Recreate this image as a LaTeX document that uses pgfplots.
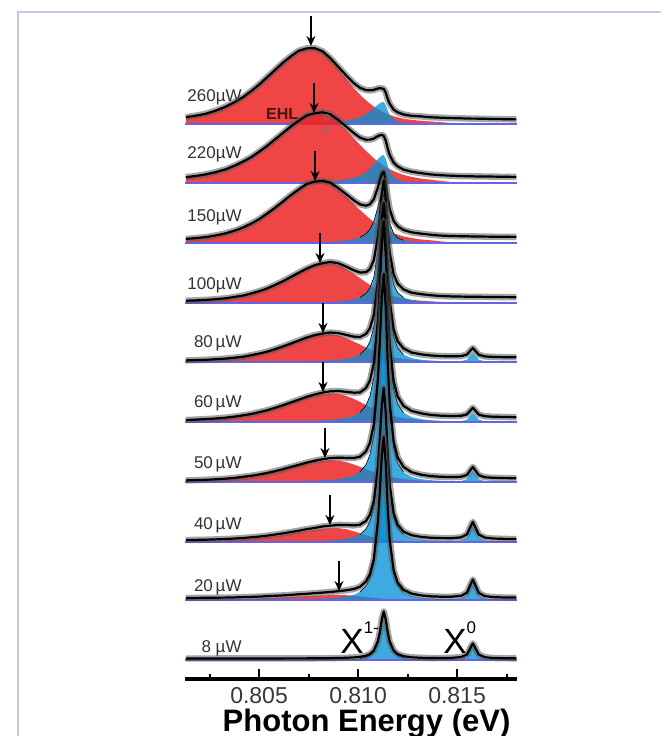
\documentclass[border=0pt]{standalone}
\usepackage{fontspec}
\setmainfont{Liberation Sans}
\usepackage{pgfplots}
\usepackage{pgfplotstable}
\pgfplotsset{compat=1.18}
\usetikzlibrary{arrows.meta}
\definecolor{ehl}{RGB}{237,37,37}
\definecolor{xb}{RGB}{0,145,215}
\definecolor{basec}{RGB}{100,100,230}
\definecolor{framec}{RGB}{200,200,228}
\definecolor{tickgray}{RGB}{55,55,55}
\definecolor{labgray}{RGB}{50,50,50}
\definecolor{ehltext}{RGB}{70,20,20}

% columns: x (eV), r = EHL component, b = X1- component, z = X0 component, f = fit (all in plot units above own baseline)
\pgfplotstableread{
x r b z f
0.8013 6.7 0.14 0 6.8
0.8018 8.2 0.16 0 8.3
0.8023 10.0 0.17 0 10.2
0.8028 13.1 0.20 0 13.3
0.8033 17.0 0.22 0 17.2
0.8038 22.0 0.25 0 22.2
0.8042 26.7 0.28 0 27.0
0.8046 32.6 0.31 0 32.9
0.8050 39.0 0.36 0 39.4
0.8054 46.2 0.41 0 46.6
0.8058 53.4 0.46 0 53.9
0.8062 60.7 0.54 0 61.2
0.8066 67.0 0.63 0 67.6
0.8070 72.4 0.75 0 73.2
0.8074 74.7 0.90 0 75.6
0.8078 74.8 1.11 0 75.9
0.8082 71.4 1.40 0 72.8
0.8086 64.1 1.81 0 65.9
0.8090 54.8 2.42 0 57.2
0.8094 45.1 3.37 0 48.5
0.8098 35.7 4.94 0 40.6
0.8101 29.3 6.86 0 36.2
0.8104 23.7 9.82 0 33.9
0.8106 20.4 12.54 0 33.6
0.8108 17.3 15.91 0 34.1
0.8110 14.9 19.37 0 35.5
0.8111 13.8 20.70 0 35.8
0.8112 12.5 21.67 0 35.6
0.8113 11.5 22.00 0 35.1
0.8114 10.7 18.97 0 31.4
0.8115 9.9 13.42 0 25.1
0.8116 9.2 9.02 0 20.2
0.8118 7.7 4.47 0 14.4
0.8120 6.7 2.52 0 11.7
0.8123 5.3 1.32 0 9.5
0.8127 4.1 0.69 0 8.2
0.8132 3.2 0.38 0 7.6
0.8137 2.5 0.24 0 6.7
0.8142 1.8 0.16 0 6.3
0.8147 1.0 0.12 0 5.9
0.8152 0.4 0.10 0 5.7
0.8155 0 0.08 0 5.5
0.8157 0 0.07 0 5.4
0.8158 0 0.07 0 5.4
0.8159 0 0.07 0 5.4
0.8161 0 0.06 0 5.3
0.8164 0 0.05 0 5.2
0.8168 0 0.04 0 5.0
0.8174 0 0.03 0 4.8
0.8180 0 0.02 0 4.6
}\tA

\pgfplotstableread{
x r b z f
0.8013 5.7 0.14 0 5.8
0.8018 6.8 0.15 0 7.0
0.8023 8.4 0.17 0 8.6
0.8028 10.6 0.19 0 10.8
0.8033 13.4 0.22 0 13.6
0.8038 17.3 0.25 0 17.6
0.8042 21.2 0.27 0 21.5
0.8046 25.5 0.31 0 25.8
0.8050 30.9 0.35 0 31.3
0.8054 36.6 0.40 0 37.0
0.8058 43.0 0.46 0 43.5
0.8062 49.5 0.53 0 50.0
0.8066 55.9 0.62 0 56.5
0.8070 61.5 0.74 0 62.2
0.8074 66.6 0.89 0 67.5
0.8078 68.6 1.10 0 69.7
0.8082 69.3 1.39 0 70.7
0.8086 66.9 1.79 0 68.7
0.8090 60.6 2.42 0 63.0
0.8094 53.0 3.41 0 56.4
0.8098 44.6 5.09 0 49.7
0.8101 38.2 7.20 0 45.4
0.8104 32.1 10.70 0 43.3
0.8106 28.5 14.11 0 43.4
0.8108 24.7 18.67 0 44.5
0.8110 21.6 23.77 0 46.9
0.8111 20.2 25.88 0 47.7
0.8112 18.8 27.44 0 48.0
0.8113 17.2 28.00 0 47.2
0.8114 16.0 24.14 0 42.3
0.8115 15.0 17.07 0 34.4
0.8116 13.9 11.48 0 27.9
0.8118 11.8 5.69 0 20.3
0.8120 10.2 3.21 0 16.6
0.8123 8.1 1.68 0 13.4
0.8127 6.1 0.88 0 11.3
0.8132 4.3 0.49 0 9.8
0.8137 3.2 0.31 0 8.5
0.8142 2.0 0.21 0 7.8
0.8147 1.0 0.15 0 7.3
0.8152 0.4 0.12 0 6.9
0.8155 0 0.10 0 6.8
0.8157 0 0.09 0 6.7
0.8158 0 0.09 0 6.7
0.8159 0 0.09 0 6.6
0.8161 0 0.08 0 6.6
0.8164 0 0.07 0 6.5
0.8168 0 0.06 0 6.4
0.8174 0 0.05 0 6.2
0.8180 0 0.04 0 6.1
}\tB

\pgfplotstableread{
x r b z f
0.8013 4.0 0.09 0 4.1
0.8018 4.8 0.10 0 4.9
0.8023 5.8 0.11 0 5.9
0.8028 7.4 0.12 0 7.5
0.8033 9.5 0.14 0 9.6
0.8038 12.4 0.16 0 12.6
0.8042 15.4 0.18 0 15.6
0.8046 19.2 0.20 0 19.4
0.8050 23.6 0.23 0 23.8
0.8054 29.0 0.26 0 29.3
0.8058 34.8 0.30 0 35.1
0.8062 41.1 0.34 0 41.4
0.8066 47.4 0.40 0 47.8
0.8070 53.1 0.48 0 53.6
0.8074 58.3 0.58 0 58.9
0.8078 60.6 0.72 0 61.3
0.8082 61.3 0.92 0 62.2
0.8086 59.1 1.20 0 60.3
0.8090 53.4 1.65 0 55.1
0.8094 46.4 2.38 0 48.8
0.8098 38.8 3.72 0 42.5
0.8101 33.0 5.59 0 38.6
0.8104 27.6 9.24 0 37.3
0.8106 24.2 13.68 0 38.7
0.8108 21.0 21.7 0 43.9
0.8110 18.3 35.6 0 55.4
0.8111 17.0 44.0 0 62.7
0.8112 15.6 51.8 0 69.2
0.8113 14.4 55.0 0 71.4
0.8114 13.5 45.9 0 61.6
0.8115 12.5 30.7 0 45.5
0.8116 11.5 19.8 0 33.8
0.8118 9.7 9.4 0 21.9
0.8120 8.4 5.2 0 16.8
0.8123 6.6 2.7 0 13.0
0.8127 5.0 1.41 0 10.7
0.8132 3.5 0.78 0 9.3
0.8137 2.7 0.49 0 8.2
0.8142 1.6 0.34 0 7.4
0.8147 0.8 0.24 0 7.0
0.8152 0.3 0.19 0 6.8
0.8155 0 0.16 0 6.7
0.8157 0 0.13 0 6.6
0.8158 0 0.13 0 6.6
0.8159 0 0.13 0 6.6
0.8161 0 0.13 0 6.5
0.8164 0 0.11 0 6.4
0.8168 0 0.09 0 6.3
0.8174 0 0.08 0 6.2
0.8180 0 0.06 0 6.1
}\tC

\pgfplotstableread{
x r b z f
0.8013 2.2 0.08 0 2.3
0.8018 2.5 0.09 0 2.6
0.8023 3.0 0.10 0 3.1
0.8028 3.7 0.12 0 3.8
0.8033 4.6 0.13 0 4.7
0.8038 6.0 0.15 0 6.2
0.8042 7.3 0.17 0 7.5
0.8046 9.3 0.19 0 9.5
0.8050 11.6 0.21 0 11.8
0.8054 14.3 0.24 0 14.5
0.8058 17.7 0.28 0 18.0
0.8062 21.4 0.33 0 21.7
0.8066 25.6 0.38 0 26.0
0.8070 29.7 0.46 0 30.2
0.8074 33.7 0.56 0 34.3
0.8078 37.0 0.69 0 37.7
0.8082 38.9 0.88 0 39.8
0.8086 39.8 1.15 0 41.0
0.8090 38.2 1.59 0 39.8
0.8094 34.1 2.31 0 36.4
0.8098 29.0 3.64 0 32.6
0.8101 24.9 5.58 0 30.5
0.8104 20.7 9.58 0 30.8
0.8106 18.2 14.9 0 33.9
0.8108 15.8 25.9 0 42.9
0.8110 13.5 51.2 0 66.2
0.8111 12.6 71.9 0 86.2
0.8112 11.6 97.2 0 110.6
0.8113 10.6 110.0 0 122.6
0.8114 9.6 91.9 0 103.7
0.8115 9.0 61.5 0 72.8
0.8116 8.2 39.6 0 50.3
0.8118 6.9 18.8 0 28.5
0.8120 5.8 10.4 0 19.4
0.8123 4.5 5.4 0 13.6
0.8127 3.2 2.83 0 10.3
0.8132 2.2 1.55 0 8.8
0.8137 1.7 0.98 0 7.7
0.8142 1.0 0.67 0 7.0
0.8147 0.5 0.48 0 6.6
0.8152 0.2 0.37 0 6.4
0.8155 0 0.32 0 6.3
0.8157 0 0.26 0 6.2
0.8158 0 0.26 0 6.2
0.8159 0 0.26 0 6.2
0.8161 0 0.26 0 6.2
0.8164 0 0.22 0 6.1
0.8168 0 0.19 0 6.0
0.8174 0 0.15 0 5.9
0.8180 0 0.12 0 5.8
}\tD

\pgfplotstableread{
x r b z f
0.8013 1.5 0.11 0 1.6
0.8018 1.8 0.12 0 1.9
0.8023 2.1 0.14 0 2.2
0.8028 2.6 0.16 0 2.8
0.8033 3.2 0.18 0 3.4
0.8038 4.2 0.20 0 4.4
0.8042 5.1 0.23 0 5.3
0.8046 6.5 0.26 0 6.8
0.8050 8.1 0.29 0 8.4
0.8054 10.0 0.33 0 10.3
0.8058 12.4 0.38 0 12.8
0.8062 15.0 0.45 0 15.5
0.8066 17.9 0.52 0 18.4
0.8070 20.8 0.63 0 21.4
0.8074 23.6 0.76 0 24.4
0.8078 25.9 0.94 0 26.8
0.8082 27.2 1.20 0 28.4
0.8086 27.9 1.57 0 29.5
0.8090 26.7 2.17 0 28.9
0.8094 23.9 3.15 0 27.1
0.8098 20.3 4.96 0 25.3
0.8101 17.4 7.61 0 25.0
0.8104 14.5 13.1 0 28.0
0.8106 12.7 20.3 0 33.7
0.8108 11.1 35.3 0 47.3
0.8110 9.5 69.8 0 80.5
0.8111 8.8 98.1 0 108.2
0.8112 8.1 132.6 0 142.1
0.8113 7.4 150.0 0 159.0
0.8114 6.7 125.3 0 133.7
0.8115 6.3 83.9 0 92.0
0.8116 5.7 54.0 0 61.7
0.8118 4.8 25.6 0 32.6
0.8120 4.1 14.2 0 20.8
0.8123 3.2 7.4 0 13.5
0.8127 2.2 3.86 0 9.5
0.8132 1.5 2.11 0 7.6
0.8137 1.2 1.34 0 6.5
0.8142 0.7 0.91 0.11 5.9
0.8147 0.3 0.65 0.23 5.7
0.8152 0 0.50 0.72 5.9
0.8155 0 0.44 2.34 7.4
0.8157 0 0.35 6.95 12.0
0.8158 0 0.35 9.0 14.0
0.8159 0 0.35 6.79 11.7
0.8161 0 0.35 2.29 7.2
0.8164 0 0.30 0.72 5.6
0.8168 0 0.26 0.27 5.1
0.8174 0 0.20 0.11 4.8
0.8180 0 0.16 0.06 4.7
}\tE

\pgfplotstableread{
x r b z f
0.8013 1.9 0.14 0 2.0
0.8018 2.2 0.16 0 2.4
0.8023 2.7 0.17 0 2.9
0.8028 3.3 0.21 0 3.5
0.8033 4.1 0.22 0 4.3
0.8038 5.2 0.26 0 5.5
0.8042 6.4 0.29 0 6.7
0.8046 7.7 0.33 0 8.0
0.8050 9.4 0.36 0 9.8
0.8054 11.3 0.41 0 11.7
0.8058 13.6 0.48 0 14.1
0.8062 16.1 0.57 0 16.7
0.8066 18.8 0.66 0 19.5
0.8070 21.5 0.79 0 22.3
0.8074 24.1 0.97 0 25.1
0.8078 26.2 1.19 0 27.4
0.8082 27.9 1.52 0 29.4
0.8086 28.7 1.99 0 30.7
0.8090 28.2 2.75 0 31.0
0.8094 26.2 3.99 0 30.2
0.8098 23.0 6.29 0 29.3
0.8101 20.0 9.64 0 29.6
0.8104 17.0 16.5 0 33.9
0.8106 15.0 25.7 0 41.4
0.8108 13.2 44.7 0 58.8
0.8110 11.4 88.4 0 101.0
0.8111 10.6 124.2 0 136.1
0.8112 9.8 167.9 0 179.1
0.8113 9.1 190.0 0 200.7
0.8114 8.4 158.7 0 168.8
0.8115 7.7 106.2 0 115.7
0.8116 7.0 68.4 0 77.4
0.8118 6.0 32.5 0 40.7
0.8120 5.0 18.0 0 25.5
0.8123 3.9 9.3 0 16.1
0.8127 2.8 4.89 0 11.1
0.8132 1.9 2.68 0 8.6
0.8137 1.3 1.69 0 7.0
0.8142 0.8 1.16 0.11 6.3
0.8147 0.3 0.83 0.23 6.0
0.8152 0 0.64 0.72 6.2
0.8155 0 0.55 2.34 7.6
0.8157 0 0.45 6.95 12.1
0.8158 0 0.45 9.0 14.2
0.8159 0 0.45 6.79 11.9
0.8161 0 0.45 2.29 7.4
0.8164 0 0.38 0.72 5.8
0.8168 0 0.33 0.27 5.3
0.8174 0 0.26 0.11 5.0
0.8180 0 0.21 0.06 4.8
}\tF

\pgfplotstableread{
x r b z f
0.8013 1.4 0.15 0 1.6
0.8018 1.7 0.16 0 1.9
0.8023 2.0 0.18 0 2.2
0.8028 2.5 0.22 0 2.7
0.8033 3.1 0.24 0 3.3
0.8038 3.9 0.27 0 4.2
0.8042 4.9 0.31 0 5.2
0.8046 5.8 0.35 0 6.2
0.8050 7.1 0.38 0 7.5
0.8054 8.6 0.44 0 9.0
0.8058 10.3 0.51 0 10.8
0.8062 12.2 0.60 0 12.8
0.8066 14.3 0.69 0 15.0
0.8070 16.3 0.84 0 17.1
0.8074 18.3 1.02 0 19.3
0.8078 19.9 1.25 0 21.2
0.8082 21.2 1.60 0 22.8
0.8086 21.8 2.09 0 23.9
0.8090 21.4 2.89 0 24.3
0.8094 19.9 4.20 0 24.1
0.8098 17.4 6.62 0 24.0
0.8101 15.2 10.1 0 25.3
0.8104 12.9 17.4 0 30.6
0.8106 11.4 27.1 0 39.0
0.8108 10.0 47.1 0 57.8
0.8110 8.6 93.1 0 102.6
0.8111 8.0 130.7 0 139.7
0.8112 7.4 176.7 0 185.2
0.8113 6.9 200.0 0 208.1
0.8114 6.4 167.1 0 174.8
0.8115 5.8 111.8 0 119.0
0.8116 5.3 72.0 0 78.8
0.8118 4.6 34.2 0 40.5
0.8120 3.8 18.9 0 24.6
0.8123 3.0 9.8 0 15.0
0.8127 2.1 5.15 0 9.8
0.8132 1.4 2.82 0 7.2
0.8137 1.0 1.78 0 5.8
0.8142 0.6 1.22 0.13 5.2
0.8147 0.2 0.87 0.28 4.9
0.8152 0 0.67 0.88 5.2
0.8155 0 0.58 2.86 7.0
0.8157 0 0.47 8.49 12.5
0.8158 0 0.47 11.0 15.0
0.8159 0 0.47 8.29 12.3
0.8161 0 0.47 2.79 6.8
0.8164 0 0.40 0.88 4.8
0.8168 0 0.35 0.33 4.2
0.8174 0 0.27 0.13 3.9
0.8180 0 0.22 0.07 3.7
}\tG

\pgfplotstableread{
x r b z f
0.8013 0.85 0.11 0 2.0
0.8018 1.0 0.12 0 2.1
0.8023 1.2 0.14 0 2.3
0.8028 1.4 0.16 0 2.6
0.8033 1.8 0.18 0 3.0
0.8038 2.3 0.20 0 3.5
0.8042 2.8 0.23 0 4.0
0.8046 3.4 0.26 0 4.7
0.8050 4.1 0.29 0 5.4
0.8054 5.0 0.33 0 6.3
0.8058 6.0 0.38 0 7.4
0.8062 7.1 0.45 0 8.6
0.8066 8.4 0.52 0 9.9
0.8070 9.7 0.63 0 11.3
0.8074 11.0 0.76 0 12.8
0.8078 12.1 0.94 0 14.0
0.8082 13.3 1.20 0 15.5
0.8086 13.7 1.57 0 16.3
0.8090 13.9 2.17 0 17.1
0.8094 12.8 3.15 0 17.0
0.8098 10.6 4.96 0 16.6
0.8101 8.7 7.61 0 17.3
0.8104 6.7 13.1 0 21.0
0.8106 5.6 20.3 0 27.2
0.8108 4.5 35.3 0 41.2
0.8110 3.6 69.8 0 74.9
0.8111 3.2 98.1 0 102.8
0.8112 2.9 132.6 0 137.0
0.8113 2.6 150.0 0 154.2
0.8114 2.2 125.3 0 129.2
0.8115 2.0 83.9 0 87.6
0.8116 1.8 54.0 0 57.6
0.8118 1.4 25.6 0 28.8
0.8120 1.1 14.2 0 17.3
0.8123 0.8 7.4 0 10.3
0.8127 0.6 3.86 0 6.8
0.8132 0.43 2.11 0 5.0
0.8137 0.35 1.34 0 4.2
0.8142 0.2 0.91 0.20 3.9
0.8147 0 0.65 0.43 3.8
0.8152 0 0.50 1.36 4.6
0.8155 0 0.44 4.42 7.6
0.8157 0 0.35 13.1 16.2
0.8158 0 0.35 17.0 20.1
0.8159 0 0.35 12.8 15.9
0.8161 0 0.35 4.32 7.4
0.8164 0 0.30 1.36 4.4
0.8168 0 0.26 0.51 3.5
0.8174 0 0.20 0.20 3.1
0.8180 0 0.16 0.11 2.9
}\tH

\pgfplotstableread{
x r b z f
0.8013 0.36 0.12 0 2.0
0.8018 0.42 0.13 0 2.1
0.8023 0.50 0.15 0 2.2
0.8028 0.61 0.17 0 2.3
0.8033 0.75 0.19 0 2.4
0.8038 0.92 0.22 0 2.6
0.8042 1.12 0.25 0 2.9
0.8046 1.33 0.28 0 3.1
0.8050 1.61 0.31 0 3.4
0.8054 1.91 0.35 0 3.8
0.8058 2.27 0.41 0 4.2
0.8062 2.65 0.48 0 4.6
0.8066 3.07 0.55 0 5.1
0.8070 3.49 0.67 0 5.7
0.8074 3.92 0.81 0 6.2
0.8078 4.30 1.00 0 6.8
0.8082 4.64 1.28 0 7.4
0.8086 4.84 1.67 0 8.0
0.8090 4.97 2.31 0 8.8
0.8094 4.80 3.36 0 9.7
0.8098 4.22 5.29 0 11.0
0.8101 3.60 8.12 0 13.2
0.8104 2.94 13.9 0 18.4
0.8106 2.50 21.7 0 25.8
0.8108 2.12 37.7 0 41.4
0.8110 1.74 74.5 0 77.9
0.8111 1.60 104.6 0 107.9
0.8112 1.44 141.4 0 144.5
0.8113 1.29 160.0 0 163.0
0.8114 1.15 133.7 0 136.6
0.8115 1.04 89.5 0 92.3
0.8116 0.93 57.6 0 60.3
0.8118 0.74 27.3 0 29.8
0.8120 0.60 15.1 0 17.5
0.8123 0.44 7.85 0 10.2
0.8127 0.30 4.12 0 6.4
0.8132 0.15 2.25 0 4.5
0.8137 0 1.43 0 3.6
0.8142 0 0.97 0.22 3.3
0.8147 0 0.70 0.45 3.3
0.8152 0 0.54 1.44 4.1
0.8155 0 0.47 4.68 7.3
0.8157 0 0.38 13.9 16.4
0.8158 0 0.38 18.0 20.5
0.8159 0 0.38 13.6 16.1
0.8161 0 0.38 4.57 7.1
0.8164 0 0.32 1.44 3.9
0.8168 0 0.28 0.54 2.9
0.8174 0 0.22 0.22 2.5
0.8180 0 0.17 0.12 2.4
}\tI

\pgfplotstableread{
x r b z f
0.8013 0 0.05 0 1.55
0.8018 0 0.05 0 1.55
0.8023 0 0.05 0 1.55
0.8028 0 0.06 0 1.55
0.8033 0 0.07 0 1.6
0.8038 0 0.07 0 1.6
0.8042 0 0.08 0 1.6
0.8046 0 0.08 0 1.6
0.8050 0 0.09 0 1.6
0.8054 0 0.10 0 1.6
0.8058 0 0.11 0 1.6
0.8062 0 0.12 0 1.6
0.8066 0 0.14 0 1.65
0.8070 0 0.16 0 1.65
0.8074 0 0.18 0 1.65
0.8078 0 0.20 0 1.7
0.8082 0 0.25 0 1.75
0.8086 0 0.33 0 1.8
0.8090 0 0.46 0 2.0
0.8094 0 0.66 0 2.2
0.8098 0 1.05 0 2.6
0.8101 0 1.62 0 3.1
0.8104 0 2.82 0 4.3
0.8106 0 4.46 0 6.0
0.8108 0 8.04 0 9.5
0.8110 0 17.3 0 18.8
0.8111 0 26.3 0 27.8
0.8112 0 39.2 0 40.7
0.8113 0 47.0 0 48.5
0.8114 0 39.2 0 40.7
0.8115 0 26.3 0 27.8
0.8116 0 16.9 0 18.4
0.8118 0 8.04 0 9.5
0.8120 0 4.46 0 6.0
0.8123 0 2.30 0 3.8
0.8127 0 1.21 0 2.7
0.8132 0 0.66 0 2.2
0.8137 0 0.42 0 1.9
0.8142 0 0.29 0.18 2.0
0.8147 0 0.21 0.38 2.1
0.8152 0 0.16 1.2 2.9
0.8155 0 0.14 3.9 5.5
0.8157 0 0.11 11.6 13.2
0.8158 0 0.11 15.0 16.6
0.8159 0 0.11 11.3 12.9
0.8161 0 0.11 3.81 5.4
0.8164 0 0.09 1.2 2.8
0.8168 0 0.08 0.45 2.0
0.8174 0 0.07 0.18 1.75
0.8180 0 0.05 0.10 1.65
}\tJ

% #1 table, #2 vertical offset of the spectrum, #3 outline colour of the X1- component
\newcommand{\spec}[3]{%
  \addplot[draw=none, fill=ehl, fill opacity=0.85, yshift=#2] table[x=x,y=r]{#1} \closedcycle;
  \addplot[draw=none, fill=xb, fill opacity=0.76, yshift=#2] table[x=x,y=b]{#1} \closedcycle;
  \addplot[draw=none, fill=xb, fill opacity=0.76, yshift=#2] table[x=x,y=z]{#1} \closedcycle;
  \addplot[draw=#3, line width=0.3pt, yshift=#2, restrict x to domain=0.8101:0.8125] table[x=x,y=b]{#1};
  \addplot[draw=basec, line width=0.6pt, yshift=#2] coordinates {(0.80126,0) (0.81803,0)};
  \addplot[draw=black!65, draw opacity=0.55, line width=3.2pt, line join=round, yshift=#2] table[x=x,y=f]{#1};
  \addplot[draw=black, line width=1.1pt, line join=round, yshift=#2] table[x=x,y=f]{#1};
}
\newcommand{\earrow}[3]{\draw[-{Stealth[length=5pt,width=4.5pt]}, line width=0.8pt] (axis cs:#1,#3) -- (axis cs:#1,#2);}
\newcommand{\plab}[2]{\node[anchor=base east, inner sep=0pt, font=\fontsize{8.5}{10}\selectfont, text=labgray] at (axis cs:0.80414,#1) {#2};}

\begin{document}
\begin{tikzpicture}
\begin{axis}[
  scale only axis, width=166.02pt, height=333.5pt,
  xmin=0.80126, xmax=0.81803, ymin=0, ymax=667,
  axis x line=bottom, axis y line=none,
  x axis line style={-, line width=2pt},
  ytick=\empty,
  xtick={0.805,0.810,0.815}, xticklabels={0.805,0.810,0.815},
  minor xtick={0.8025,0.8075,0.8125,0.8175},
  scaled x ticks=false,
  tick align=inside, major tick length=5pt, minor tick length=2.5pt,
  every tick/.style={black, line width=1pt},
  xticklabel style={font=\fontsize{11.5}{12}\selectfont, text=tickgray, inner sep=0pt, anchor=north, yshift=-4pt},
  clip=false,
]
\spec{\tA}{277.5pt}{none}
\spec{\tB}{248pt}{none}
\addplot[only marks, mark=o, mark size=1.3pt, draw=black!55] coordinates {(0.80843,562) (0.80843,549)};
\spec{\tC}{218pt}{black}
\spec{\tD}{188pt}{black}
\spec{\tE}{158.5pt}{black}
\spec{\tF}{128.5pt}{black}
\spec{\tG}{98.5pt}{black}
\spec{\tH}{68.5pt}{black}
\spec{\tI}{39.5pt}{black}
\spec{\tJ}{9.5pt}{black}

% arrows marking the EHL peak
\earrow{0.80762}{633}{663}
\earrow{0.807775}{566}{596}
\earrow{0.80783}{498}{528}
\earrow{0.80808}{416}{446}
\earrow{0.80823}{346}{376}
\earrow{0.80823}{287}{317}
\earrow{0.80833}{221}{251}
\earrow{0.80858}{154}{184}
\earrow{0.80904}{88}{118}

% power labels
\plab{578}{260µW}
\plab{521}{220µW}
\plab{458}{150µW}
\plab{390}{100µW}
\plab{332}{80\,µW}
\plab{272}{60\,µW}
\plab{211}{50\,µW}
\plab{150}{40\,µW}
\plab{88}{20\,µW}
\plab{27}{8 µW}
\node[anchor=base, inner sep=0pt, font=\bfseries\fontsize{8}{9}\selectfont, text=ehltext] at (axis cs:0.80617,560) {EHL};
\node[anchor=base west, inner sep=0pt, font=\fontsize{17.5}{20}\selectfont] at (axis cs:0.80909,26) {X\raisebox{10pt}{\fontsize{8.5}{9}\selectfont 1-}};
\node[anchor=base west, inner sep=0pt, font=\fontsize{17.5}{20}\selectfont] at (axis cs:0.81429,26) {X\raisebox{10pt}{\fontsize{8.5}{9}\selectfont 0}};
\node[anchor=base, inner sep=0pt, font=\bfseries\fontsize{15.5}{18}\selectfont] at (axis cs:0.81043,-52) {Photon Energy (eV)};

\coordinate (BL) at (axis cs:0.791917,-57);
\coordinate (TR) at (axis cs:0.825300,679);
\coordinate (FB) at (axis cs:0.792851,-57);
\coordinate (FT) at (axis cs:0.792851,667);
\coordinate (FR) at (axis cs:0.825300,667);
\end{axis}
\pgfresetboundingbox
\path[use as bounding box] (BL) rectangle (TR);
\draw[framec, line width=1pt] (FB) -- (FT) -- (FR);
\end{tikzpicture}
\end{document}
